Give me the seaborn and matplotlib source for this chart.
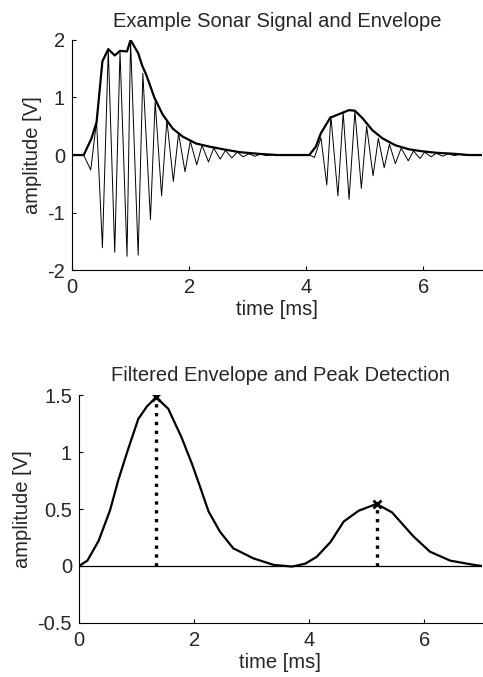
import numpy as np
import matplotlib
matplotlib.use('Agg')
import matplotlib.pyplot as plt
import seaborn as sns

# raw sonar signal samples (time in ms, volts)
sig_t = [0.0, 0.2, 0.32, 0.42, 0.52, 0.62, 0.73, 0.82, 0.94, 1.0, 1.13, 1.21, 1.34,
         1.42, 1.53, 1.62, 1.73, 1.82, 1.93, 2.02, 2.13, 2.22, 2.33, 2.42, 2.53,
         2.62, 2.73, 2.82, 2.92, 3.02, 3.12, 3.22, 3.32, 3.42, 3.52, 4.05, 4.14,
         4.25, 4.35, 4.42, 4.54, 4.63, 4.73, 4.83, 4.94, 5.03, 5.14, 5.23, 5.33,
         5.42, 5.52, 5.62, 5.74, 5.83, 5.94, 6.02, 6.13, 6.22, 6.33, 6.42, 6.53,
         6.62, 6.73, 6.85, 7.0]
sig_v = [0.0, 0.0, -0.26, 0.59, -1.61, 1.84, -1.69, 1.80, -1.76, 1.99, -1.74, 1.42, -1.12,
         0.93, -0.71, 0.61, -0.46, 0.38, -0.29, 0.24, -0.17, 0.17, -0.12, 0.12, -0.07,
         0.08, -0.05, 0.05, -0.03, 0.02, -0.02, 0.015, -0.01, 0.005, 0.0, 0.0, -0.04,
         0.30, -0.52, 0.67, -0.71, 0.74, -0.77, 0.76, -0.58, 0.50, -0.36, 0.29, -0.22,
         0.19, -0.15, 0.12, -0.10, 0.07, -0.06, 0.05, -0.03, 0.03, -0.02, 0.02, -0.01,
         0.01, -0.01, 0.0, 0.0]

# envelope of the raw signal
env_t = [0.0, 0.2, 0.33, 0.42, 0.52, 0.62, 0.73, 0.82, 0.94, 1.0, 1.13, 1.2, 1.27,
         1.41, 1.55, 1.72, 1.89, 2.12, 2.35, 2.58, 2.86, 3.2, 3.5, 4.05, 4.16, 4.25,
         4.41, 4.63, 4.73, 4.83, 4.96, 5.13, 5.30, 5.52, 5.75, 5.98, 6.21, 6.55, 6.78, 7.0]
env_v = [0.0, 0.0, 0.28, 0.57, 1.63, 1.84, 1.73, 1.81, 1.80, 2.0, 1.77, 1.55, 1.39,
         0.99, 0.70, 0.46, 0.32, 0.20, 0.145, 0.10, 0.05, 0.02, 0.0, 0.0, 0.14, 0.38,
         0.65, 0.74, 0.78, 0.77, 0.64, 0.43, 0.29, 0.17, 0.10, 0.065, 0.04, 0.02, 0.0, 0.0]

# low-pass filtered envelope (bottom panel)
filt_t = [0.0, 0.145, 0.34, 0.54, 0.68, 0.85, 1.03, 1.18, 1.34, 1.55, 1.78, 1.96, 2.10,
          2.25, 2.45, 2.68, 3.03, 3.38, 3.70, 3.93, 4.13, 4.37, 4.60, 4.86, 5.17, 5.44,
          5.81, 6.10, 6.45, 6.86, 7.0]
filt_v = [0.0, 0.047, 0.22, 0.49, 0.75, 1.02, 1.29, 1.40, 1.48, 1.38, 1.13, 0.90, 0.70,
          0.48, 0.30, 0.155, 0.067, 0.01, -0.005, 0.02, 0.08, 0.21, 0.39, 0.485, 0.545,
          0.47, 0.26, 0.125, 0.047, 0.01, 0.0]

# detected peaks
peak_t = [1.34, 5.17]
peak_v = [1.48, 0.545]

sns.set_theme(style='white')
plt.rcParams['font.family'] = ['Liberation Sans', 'DejaVu Sans']
plt.rcParams['xtick.direction'] = 'in'
plt.rcParams['ytick.direction'] = 'in'

fig = plt.figure(figsize=(4.83, 6.77), dpi=100)
ax1 = fig.add_axes([0.149, 0.601, 0.849, 0.340])
ax2 = fig.add_axes([0.1636, 0.0798, 0.834, 0.3367])

fs = 14.5

# top panel
sns.lineplot(x=sig_t, y=sig_v, ax=ax1, color='black', linewidth=0.7, estimator=None, sort=False)
sns.lineplot(x=env_t, y=env_v, ax=ax1, color='black', linewidth=1.6, estimator=None, sort=False)
ax1.set_xlim(0, 7)
ax1.set_ylim(-2, 2)
ax1.set_xticks([0, 2, 4, 6])
ax1.set_yticks([-2, -1, 0, 1, 2])
ax1.set_xticklabels(['0', '2', '4', '6'])
ax1.set_yticklabels(['-2', '-1', '0', '1', '2'])
ax1.set_title('Example Sonar Signal and Envelope', fontsize=fs, pad=9)
ax1.set_xlabel('time [ms]', fontsize=fs, labelpad=2.5)
ax1.set_ylabel('amplitude [V]', fontsize=fs, labelpad=4)

# bottom panel
ax2.axhline(0, color='black', linewidth=0.9)
sns.lineplot(x=filt_t, y=filt_v, ax=ax2, color='black', linewidth=1.6, estimator=None, sort=False)
for pt, pv in zip(peak_t, peak_v):
    ax2.plot([pt, pt], [0, pv], color='black', linestyle=':', linewidth=2.4)
ax2.plot(peak_t, peak_v, linestyle='none', marker='x', color='black', markersize=6, markeredgewidth=2)
ax2.set_xlim(0, 7)
ax2.set_ylim(-0.5, 1.5)
ax2.set_xticks([0, 2, 4, 6])
ax2.set_yticks([-0.5, 0, 0.5, 1, 1.5])
ax2.set_xticklabels(['0', '2', '4', '6'])
ax2.set_yticklabels(['-0.5', '0', '0.5', '1', '1.5'])
ax2.set_title('Filtered Envelope and Peak Detection', fontsize=fs, pad=10)
ax2.set_xlabel('time [ms]', fontsize=fs, labelpad=2.5)
ax2.set_ylabel('amplitude [V]', fontsize=fs, labelpad=4)

for ax in (ax1, ax2):
    sns.despine(ax=ax)
    ax.spines['left'].set_color('black')
    ax.spines['bottom'].set_color('black')
    ax.spines['left'].set_linewidth(0.8)
    ax.spines['bottom'].set_linewidth(0.8)
    ax.tick_params(axis='both', labelsize=fs, length=3, width=0.8, color='black',
                   left=True, bottom=True)
    ax.tick_params(axis='y', pad=5)
    ax.tick_params(axis='x', pad=5.5)

fig.savefig('out.png', dpi=100)
